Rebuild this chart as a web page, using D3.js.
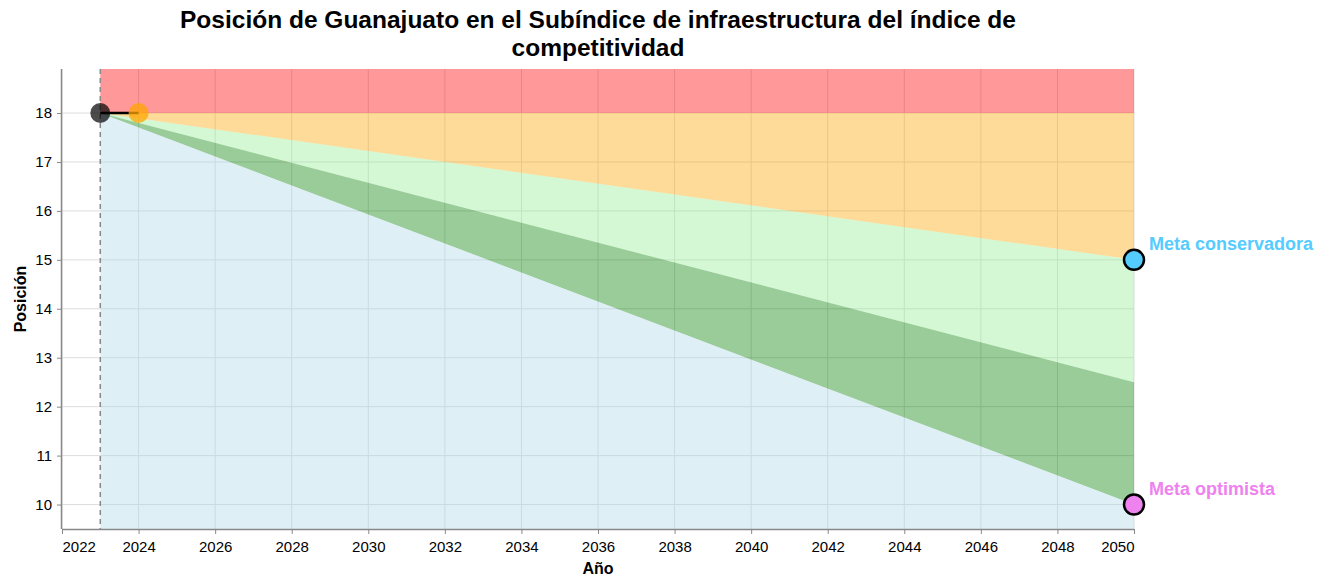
<!DOCTYPE html>
<html>
<head>
<meta charset="utf-8">
<script src="https://cdn.jsdelivr.net/npm/d3@7"></script>
<style>
  body { margin: 0; background: #fff; }
  text { font-family: "Liberation Sans", Arial, sans-serif; }
</style>
</head>
<body>
<div id="chart"></div>
<script>
"use strict";
// datos
var anios = [2023, 2050];
var metaConservadora = [18, 15];
var metaIntermedia = [18, 12.5];
var metaOptimista = [18, 10];
var techo = [18, 18];
var aniosHistorico = [2023, 2024];
var posicionHistorico = [18, 18];
var yTicks = [10, 11, 12, 13, 14, 15, 16, 17, 18];
var xTicks = d3.range(2022, 2051, 2);

var width = 1330, height = 577;
var margin = { top: 69, right: 196, bottom: 48, left: 62 };
var plotW = width - margin.left - margin.right;
var plotH = height - margin.top - margin.bottom;

var svg = d3.select("#chart").append("svg")
    .attr("width", width)
    .attr("height", height);

var x = d3.scaleLinear().domain([2022, 2050]).range([0, plotW]);
var y = d3.scaleLinear().domain([9.5, 18.9]).range([plotH, 0]);

var g = svg.append("g").attr("transform", "translate(" + margin.left + "," + margin.top + ")");

// grid
g.append("g").selectAll("line").data(xTicks).enter().append("line")
    .attr("x1", function (d) { return x(d); }).attr("x2", function (d) { return x(d); })
    .attr("y1", 0).attr("y2", plotH)
    .attr("stroke", "#ddd").attr("stroke-width", 1);
g.append("g").selectAll("line").data(yTicks).enter().append("line")
    .attr("y1", function (d) { return y(d); }).attr("y2", function (d) { return y(d); })
    .attr("x1", 0).attr("x2", plotW)
    .attr("stroke", "#ddd").attr("stroke-width", 1);

function band(lower, upper) {
    return anios.map(function (a, i) { return { x: a, y0: lower[i], y1: upper[i] }; });
}
var area = d3.area()
    .x(function (d) { return x(d.x); })
    .y0(function (d) { return y(d.y0); })
    .y1(function (d) { return y(d.y1); });

var topVal = y.domain()[1], botVal = y.domain()[0];
var bands = [
    { data: band(techo, [topVal, topVal]), color: "red" },
    { data: band(metaConservadora, techo), color: "orange" },
    { data: band(metaIntermedia, metaConservadora), color: "lightgreen" },
    { data: band(metaOptimista, metaIntermedia), color: "green" },
    { data: band([botVal, botVal], metaOptimista), color: "lightblue" }
];
g.append("g").selectAll("path").data(bands).enter().append("path")
    .attr("d", function (d) { return area(d.data); })
    .attr("fill", function (d) { return d.color; })
    .attr("fill-opacity", 0.4);

// linea punteada en el año base
g.append("line")
    .attr("x1", x(anios[0])).attr("x2", x(anios[0]))
    .attr("y1", 0).attr("y2", plotH)
    .attr("stroke", "#888").attr("stroke-width", 1.5)
    .attr("stroke-dasharray", "5,4");

// ejes
var xAxis = g.append("g").attr("transform", "translate(0," + plotH + ")")
    .call(d3.axisBottom(x).tickValues(xTicks).tickFormat(d3.format("d")).tickSize(5).tickSizeOuter(0));
var yAxis = g.append("g")
    .call(d3.axisLeft(y).tickValues(yTicks).tickSize(5).tickSizeOuter(0));
[xAxis, yAxis].forEach(function (ax) {
    ax.select(".domain").attr("stroke", "#888").attr("stroke-width", 1.5);
    ax.selectAll(".tick line").attr("stroke", "#888");
    ax.selectAll("text").attr("font-size", 15).attr("fill", "#000")
        .attr("font-family", "'Liberation Sans', Arial, sans-serif");
});
xAxis.select(".domain").attr("d", "M0,0.5H" + plotW);
xAxis.selectAll(".tick text").attr("y", 12);
xAxis.selectAll(".tick text").filter(function (d) { return d === 2022; }).attr("text-anchor", "start");
xAxis.selectAll(".tick text").filter(function (d) { return d === 2050; }).attr("text-anchor", "end");
yAxis.select(".domain").attr("d", "M-0.5,0V" + plotH);
yAxis.selectAll(".tick text").attr("x", -10);

// historico
var linea = d3.line()
    .x(function (d) { return x(d[0]); })
    .y(function (d) { return y(d[1]); });
var hist = aniosHistorico.map(function (a, i) { return [a, posicionHistorico[i]]; });
g.append("circle").attr("cx", x(hist[0][0])).attr("cy", y(hist[0][1])).attr("r", 10)
    .attr("fill", "#000").attr("fill-opacity", 0.7);
g.append("path").attr("d", linea(hist)).attr("stroke", "#000").attr("stroke-width", 2.5).attr("fill", "none");
g.append("circle").attr("cx", x(hist[1][0])).attr("cy", y(hist[1][1])).attr("r", 10)
    .attr("fill", "orange").attr("fill-opacity", 0.75);

// metas
var metas = [
    { nombre: "Meta conservadora", valor: metaConservadora[1], color: "#55CCFF" },
    { nombre: "Meta optimista", valor: metaOptimista[1], color: "#EE82EE" }
];
var fin = anios[anios.length - 1];
g.selectAll(".meta").data(metas).enter().append("circle")
    .attr("cx", x(fin)).attr("cy", function (d) { return y(d.valor); }).attr("r", 10)
    .attr("fill", function (d) { return d.color; })
    .attr("stroke", "#000").attr("stroke-width", 2.5);
g.selectAll(".metaLabel").data(metas).enter().append("text")
    .attr("x", x(fin) + 15).attr("y", function (d) { return y(d.valor) - 10; })
    .attr("font-size", 18).attr("font-weight", "bold")
    .attr("fill", function (d) { return d.color; })
    .text(function (d) { return d.nombre; });

// titulos
var cx = margin.left + plotW / 2;
var title = svg.append("text").attr("x", cx).attr("text-anchor", "middle")
    .attr("font-size", 24.5).attr("font-weight", "bold").attr("fill", "#000");
title.append("tspan").attr("x", cx).attr("y", 28)
    .text("Posición de Guanajuato en el Subíndice de infraestructura del índice de");
title.append("tspan").attr("x", cx).attr("y", 56).text("competitividad");

svg.append("text").attr("x", cx).attr("y", 574).attr("text-anchor", "middle")
    .attr("font-size", 16).attr("font-weight", "bold").text("Año");
svg.append("text").attr("transform", "translate(26," + (margin.top + plotH / 2) + ") rotate(-90)")
    .attr("text-anchor", "middle").attr("font-size", 16).attr("font-weight", "bold").text("Posición");
</script>
</body>
</html>
